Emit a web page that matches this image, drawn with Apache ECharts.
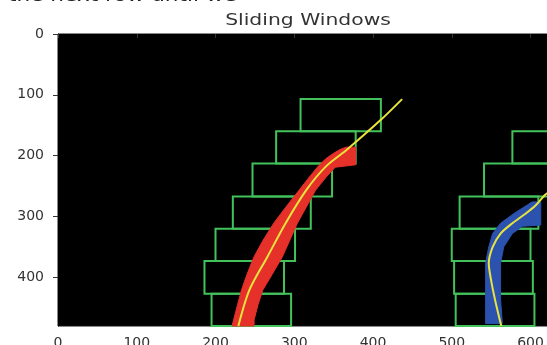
<!DOCTYPE html>
<html>
<head>
<meta charset="utf-8">
<script src="https://cdn.jsdelivr.net/npm/echarts@6.0.0/dist/echarts.min.js"></script>
<style>
  html, body { margin: 0; padding: 0; background: #fff; }
  #chart { width: 547px; height: 345px; }
</style>
</head>
<body>
<div id="chart"></div>
<script>
// window rows (image y, top / bottom)
const windowTop = [427, 373, 320, 267, 213, 160, 107]
const windowBottom = [480, 427, 373, 320, 267, 213, 160]
// left lane windows x range
const leftWinLow = [195, 186, 200, 222, 247, 277, 308]
const leftWinHigh = [296, 287, 301, 321, 348, 378, 410]
// right lane windows x range
const rightWinLow = [505, 503, 500, 510, 541, 577]
const rightWinHigh = [605, 603, 600, 610, 641, 677]

// lane pixel bands, [x, y]
const redLeftEdge = [[221, 480], [223, 470], [228, 445], [233, 421], [240, 395], [249, 366], [260, 340], [274, 311],
  [289, 285], [306, 257], [318, 237], [330, 218], [340, 205], [350, 196], [358, 190], [366, 186]]
const redRightEdge = [[378, 186], [378, 215], [352, 219], [340, 236], [327, 257], [315, 285], [304, 311], [294, 340],
  [285, 366], [272, 395], [260, 421], [254, 445], [249, 470], [249, 480]]
const blueLeftEdge = [[543, 476], [543, 437], [543, 405], [543, 377], [547, 350], [552, 328], [562, 311], [579, 295],
  [596, 281], [602, 276]]
const blueRightEdge = [[613, 276], [613, 314], [590, 316], [577, 328], [566, 350], [562, 377], [562, 405], [562, 437],
  [564, 470], [564, 476]]

// polynomial fits
const leftFit = [[229, 480], [243, 421], [266, 366], [289, 311], [315, 257], [340, 218], [366, 191], [410, 141], [437, 107]]
const rightFit = [[563, 480], [561, 470], [555, 437], [550, 405], [547, 377], [552, 350], [562, 328], [577, 311],
  [594, 295], [607, 281], [618, 265], [622, 261]]

const xTicks = [0, 100, 200, 300, 400, 500, 600]
const yTicks = [0, 100, 200, 300, 400]

const GREEN = '#43c25b'
const RED = '#e6302a'
const BLUE = '#2b52ae'
const YELLOW = '#e9e43c'

const chart = echarts.init(document.getElementById('chart'), null, { renderer: 'canvas' })

const windows = []
leftWinLow.forEach((lo, i) => windows.push([lo, leftWinHigh[i], windowTop[i], windowBottom[i]]))
rightWinLow.forEach((lo, i) => windows.push([lo, rightWinHigh[i], windowTop[i], windowBottom[i]]))

function bandSeries(leftEdge, rightEdge, color) {
  return {
    type: 'custom',
    z: 3,
    silent: true,
    data: [0],
    renderItem: function (params, api) {
      const pts = leftEdge.concat(rightEdge).map((p) => api.coord(p))
      return { type: 'polygon', shape: { points: pts }, style: { fill: color, stroke: color, lineWidth: 1 } }
    },
  }
}

const labelStyle = { color: '#333', fontFamily: 'DejaVu Sans', fontSize: 14 }

const option = {
  animation: false,
  backgroundColor: '#fff',
  graphic: [
    {
      type: 'text', x: 8, y: -4, scaleX: 1.2,
      style: { text: 'the next row until we', fontFamily: 'DejaVu Sans', fontSize: 18, fill: '#222', verticalAlign: 'middle' },
    },
    {
      type: 'text', x: 308, y: 20.5, scaleX: 1.27,
      style: { text: 'Sliding Windows', fontFamily: 'DejaVu Sans', fontSize: 16, fill: '#333', align: 'center', verticalAlign: 'middle' },
    },
  ],
  grid: {
    left: 58, top: 34, width: 504, height: 292,
    show: true, backgroundColor: '#000', borderColor: '#111', borderWidth: 1,
    containLabel: false, outerBoundsMode: 'none',
  },
  xAxis: {
    type: 'value', min: 0, max: 640, interval: 100,
    splitLine: { show: false },
    axisLine: { show: true, lineStyle: { color: '#000' } },
    axisTick: { show: true, length: 4, lineStyle: { color: '#333' }, customValues: xTicks },
    axisLabel: Object.assign({ margin: 10, customValues: xTicks }, labelStyle),
  },
  yAxis: {
    type: 'value', inverse: true, min: 0, max: 480, interval: 100,
    splitLine: { show: false },
    axisLine: { show: true, lineStyle: { color: '#000' } },
    axisTick: { show: true, length: 5, lineStyle: { color: '#333' }, customValues: yTicks },
    axisLabel: Object.assign({ margin: 14, customValues: yTicks }, labelStyle),
  },
  series: [
    {
      type: 'custom',
      z: 2,
      silent: true,
      encode: { x: [0, 1], y: [2, 3] },
      data: windows,
      renderItem: function (params, api) {
        const p1 = api.coord([api.value(0), api.value(2)])
        const p2 = api.coord([api.value(1), api.value(3)])
        return {
          type: 'rect',
          shape: { x: p1[0], y: p1[1], width: p2[0] - p1[0], height: p2[1] - p1[1] },
          style: { fill: null, stroke: GREEN, lineWidth: 2 },
        }
      },
    },
    bandSeries(redLeftEdge, redRightEdge, RED),
    bandSeries(blueLeftEdge, blueRightEdge, BLUE),
    {
      type: 'line', z: 4, silent: true, showSymbol: false, smooth: 0.3,
      data: leftFit, lineStyle: { color: YELLOW, width: 2 },
    },
    {
      type: 'line', z: 4, silent: true, showSymbol: false, smooth: 0.3,
      data: rightFit, lineStyle: { color: YELLOW, width: 2 },
    },
  ],
}

chart.setOption(option)
</script>
</body>
</html>
